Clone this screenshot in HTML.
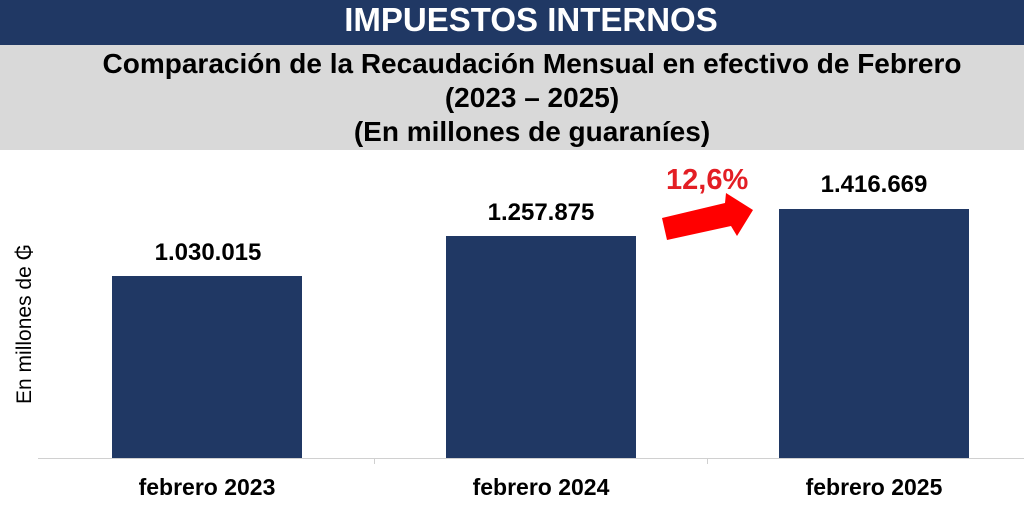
<!DOCTYPE html>
<html><head><meta charset="utf-8"><style>
body{margin:0;width:1024px;height:507px;background:#fff;position:relative;overflow:hidden;font-family:"Liberation Sans",sans-serif}
div{position:absolute}
.t{font-weight:bold;text-align:center;color:#000}
.bar{background:#203864}
</style></head><body>
<div style="left:0;top:0;width:1024px;height:45px;background:#203864"></div>
<div class="t" style="left:0;top:1px;width:1062px;color:#fff;font-size:33px">IMPUESTOS INTERNOS</div>
<div style="left:0;top:45px;width:1024px;height:105px;background:#d9d9d9"></div>
<div class="t" style="left:0;top:47px;width:1064px;font-size:28px;line-height:34px">Comparación de la Recaudación Mensual en efectivo de Febrero<br>(2023 – 2025)<br>(En millones de guaraníes)</div>
<div style="left:-95px;top:312px;width:240px;transform:rotate(-90deg);text-align:center;font-size:21px;color:#000">En millones de ₲</div>
<div class="bar" style="left:112px;top:276px;width:190px;height:182px"></div>
<div class="bar" style="left:446px;top:236px;width:190px;height:222px"></div>
<div class="bar" style="left:779px;top:209px;width:190px;height:249px"></div>
<div style="left:38px;top:458px;width:986px;height:1px;background:#d0d0d0"></div>
<div style="left:374px;top:458px;width:1px;height:6px;background:#d0d0d0"></div>
<div style="left:707px;top:458px;width:1px;height:6px;background:#d0d0d0"></div>
<div class="t" style="left:108px;top:239px;width:200px;font-size:24px">1.030.015</div>
<div class="t" style="left:441px;top:199px;width:200px;font-size:24px">1.257.875</div>
<div class="t" style="left:774px;top:171px;width:200px;font-size:24px">1.416.669</div>
<div class="t" style="left:107px;top:474px;width:200px;font-size:23px">febrero 2023</div>
<div class="t" style="left:441px;top:474px;width:200px;font-size:23px">febrero 2024</div>
<div class="t" style="left:774px;top:474px;width:200px;font-size:23px">febrero 2025</div>
<div style="left:666px;top:164px;font-size:29px;font-weight:bold;color:#e31e24">12,6%</div>
<svg style="position:absolute;left:0;top:0" width="1024" height="507"><polygon points="662,218 725,203 726,193 753,210 737,236 731,226 667,240" fill="#ff0000"/></svg>
</body></html>
